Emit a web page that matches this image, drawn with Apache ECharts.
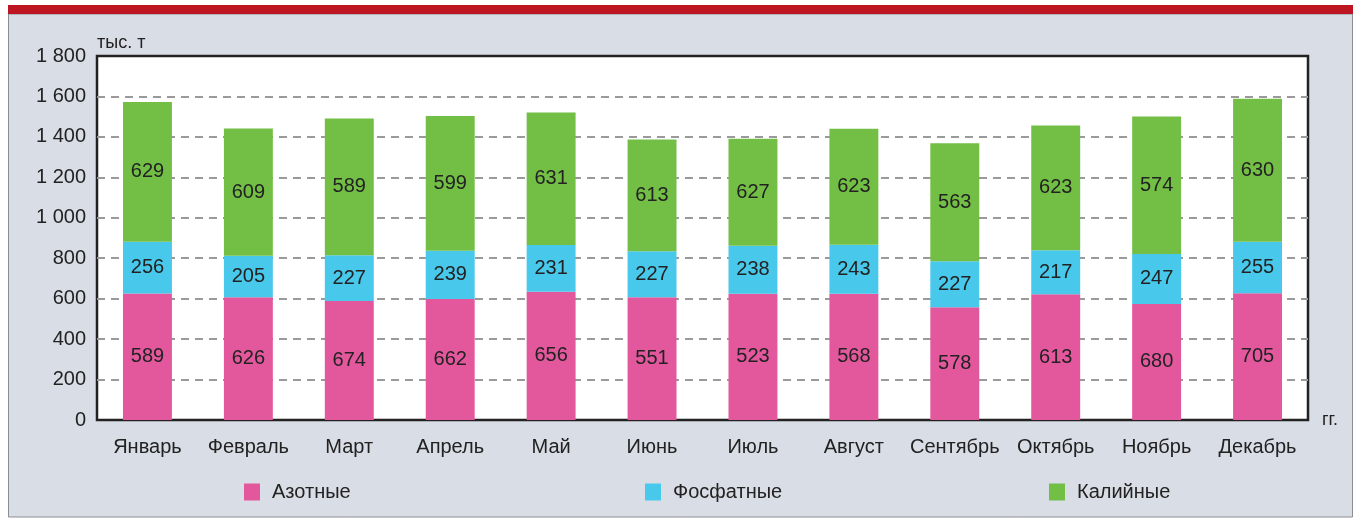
<!DOCTYPE html>
<html>
<head>
<meta charset="utf-8">
<script src="https://cdn.jsdelivr.net/npm/echarts@6/dist/echarts.min.js"></script>
<style>
  html, body { margin: 0; padding: 0; background: #fff; }
  #chart { width: 1359px; height: 519px; }
</style>
</head>
<body>
<div id="chart"></div>
<script>
// месяцы
const months = ['Январь', 'Февраль', 'Март', 'Апрель', 'Май', 'Июнь', 'Июль', 'Август', 'Сентябрь', 'Октябрь', 'Ноябрь', 'Декабрь'];
// подписи на столбцах, тыс. т
const azotnye = [589, 626, 674, 662, 656, 551, 523, 568, 578, 613, 680, 705];
const fosfatnye = [256, 205, 227, 239, 231, 227, 238, 243, 227, 217, 247, 255];
const kaliynye = [629, 609, 589, 599, 631, 613, 627, 623, 563, 623, 574, 630];
// высоты столбцов на исходном рисунке (розовый и зелёный там перепутаны)
const azotHeight = [626, 607, 588, 598, 634, 607, 624, 624, 558, 622, 574, 627];
const kaliyHeight = [691, 629, 676, 666, 655, 553, 529, 573, 583, 617, 680, 706];
// деления оси Y
const yTicks = [0, 200, 400, 600, 800, 1000, 1200, 1400, 1600, 1800];

let myChart = echarts.init(document.getElementById('chart'));

const font = 'Liberation Sans, Arial, sans-serif';

const labelStyle = {
    show: true,
    position: 'inside',
    color: '#222',
    fontSize: 20,
    fontFamily: font
};

let option = {
    backgroundColor: '#fff',
    animation: false,
    color: ['#e3589d', '#48c8eb', '#73bf45'],
    graphic: [
        {
            type: 'rect',
            z: -10,
            shape: { x: 8.5, y: 14, width: 1344, height: 503 },
            style: { fill: '#d9dde5', stroke: '#8a8d92', lineWidth: 1 }
        },
        {
            type: 'rect',
            z: -9,
            shape: { x: 8, y: 5, width: 1345, height: 9 },
            style: { fill: '#be1522' }
        }
    ],
    // три отдельные легенды, чтобы стояли как на картинке
    legend: [
        { data: ['Азотные'], left: 239, top: 477 },
        { data: ['Фосфатные'], left: 640, top: 477 },
        { data: ['Калийные'], left: 1044, top: 477 }
    ].map(function (l) {
        return Object.assign(l, {
            icon: 'rect',
            itemWidth: 16,
            itemHeight: 17,
            selectedMode: false,
            textStyle: {
                color: '#222',
                fontSize: 20,
                fontFamily: font,
                padding: [0, 0, 0, 7]
            }
        });
    }),
    grid: {
        left: 97,
        right: 51,
        top: 56,
        bottom: 99,
        show: true,
        backgroundColor: '#fff',
        borderColor: '#222',
        borderWidth: 2.5
    },
    xAxis: {
        type: 'category',
        data: months,
        name: 'гг.',
        nameLocation: 'end',
        nameGap: 14,
        nameTextStyle: {
            color: '#222',
            fontSize: 18,
            fontFamily: font,
            verticalAlign: 'middle',
            padding: [0, 0, 6, 0]
        },
        axisLine: { show: false },
        axisTick: { show: false },
        axisLabel: {
            color: '#222',
            fontSize: 20,
            fontFamily: font,
            margin: 17,
            interval: 0
        }
    },
    yAxis: {
        type: 'value',
        min: yTicks[0],
        max: yTicks[yTicks.length - 1],
        interval: yTicks[1] - yTicks[0],
        name: 'тыс. т',
        nameLocation: 'end',
        nameGap: 13,
        nameTextStyle: {
            color: '#222',
            fontSize: 18,
            fontFamily: font,
            align: 'left',
            verticalAlign: 'middle'
        },
        axisLine: { show: false },
        axisTick: { show: false },
        axisLabel: {
            color: '#222',
            fontSize: 20,
            fontFamily: font,
            margin: 11,
            padding: [0, 0, 6, 0],
            formatter: function (v) {
                // пробел между тысячами: 1 800
                return String(v).replace(/\B(?=(\d{3})+(?!\d))/g, ' ');
            }
        },
        splitLine: {
            showMinLine: false,
            showMaxLine: false,
            lineStyle: { color: '#9a9a9a', width: 2, type: [8, 6] }
        }
    },
    series: [
        {
            name: 'Азотные',
            type: 'bar',
            stack: 'total',
            barWidth: '48.5%',
            data: azotHeight,
            label: Object.assign({}, labelStyle, {
                formatter: function (p) { return azotnye[p.dataIndex]; }
            })
        },
        {
            name: 'Фосфатные',
            type: 'bar',
            stack: 'total',
            barWidth: '48.5%',
            data: fosfatnye,
            label: Object.assign({}, labelStyle, {
                formatter: function (p) { return fosfatnye[p.dataIndex]; }
            })
        },
        {
            name: 'Калийные',
            type: 'bar',
            stack: 'total',
            barWidth: '48.5%',
            data: kaliyHeight,
            label: Object.assign({}, labelStyle, {
                formatter: function (p) { return kaliynye[p.dataIndex]; }
            })
        }
    ]
};
myChart.setOption(option);
</script>
</body>
</html>
